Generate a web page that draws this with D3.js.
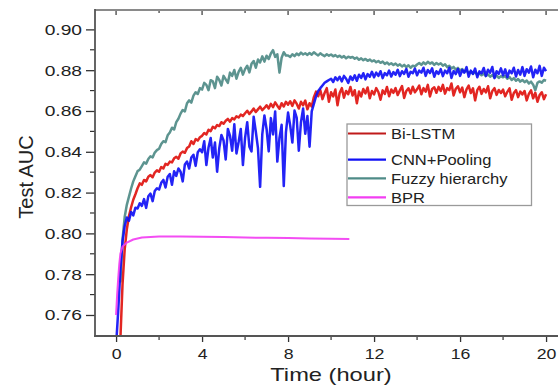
<!DOCTYPE html>
<html><head><meta charset="utf-8">
<script src="https://cdn.jsdelivr.net/npm/d3@7"></script>
<style>body{margin:0;background:#fff}svg{display:block}text{font-family:"Liberation Sans",Arial,sans-serif;fill:#222}</style>
</head><body><svg id="c" width="558" height="389"></svg>
<script>
// ---- data ----
const timeStep = 0.1; // hours between samples, first sample at 0 h
const seriesNames = ["Bi-LSTM","CNN+Pooling","Fuzzy hierarchy","BPR"];
const xTicks = [0,4,8,12,16,20];
const yTicks = [0.76,0.78,0.80,0.82,0.84,0.86,0.88,0.90];

const fuzzyAUC = [
null,null,0.776,0.797,0.808,0.814,0.818,0.822,0.8255,0.828,
0.8305,0.8312,0.833,0.8348,0.8342,0.8365,0.8378,0.8372,0.8396,0.8408,
0.8415,0.8438,0.8452,0.8447,0.8481,0.8495,0.8518,0.8509,0.8545,0.8562,
0.8587,0.8605,0.8598,0.8638,0.8652,0.8641,0.8675,0.8692,0.8683,0.8712,
0.8705,0.8738,0.8728,0.8702,0.8751,0.8745,0.8712,0.8768,0.8752,0.8725,
0.8772,0.8755,0.8738,0.8788,0.8772,0.8801,0.8758,0.8792,0.8812,0.8778,
0.8805,0.8822,0.8789,0.8831,0.8845,0.8812,0.8852,0.8838,0.8868,0.8842,
0.8871,0.8855,0.8882,0.8898,0.8865,0.8878,0.8788,0.8861,0.8888,0.8872,
0.8872,0.8865,0.8878,0.8869,0.8881,0.8874,0.8886,0.8877,0.8883,0.8875,
0.8884,0.8876,0.8888,0.8879,0.8872,0.8883,0.8875,0.8869,0.8878,0.8871,
0.8877,0.8868,0.8874,0.8865,0.8871,0.8862,0.8869,0.8858,0.8866,0.8861,
0.8865,0.8856,0.8862,0.8851,0.8858,0.8849,0.8855,0.8846,0.8852,0.8843,
0.8848,0.8839,0.8845,0.8836,0.8842,0.8831,0.8838,0.8828,0.8834,0.8825,
0.8832,0.8822,0.8829,0.8818,0.8826,0.8815,0.8824,0.8812,0.8822,0.8818,
0.8828,0.8835,0.8826,0.8838,0.8829,0.8841,0.8832,0.8838,0.8826,0.8835,
0.8828,0.8834,0.8822,0.8829,0.8815,0.8822,0.8809,0.8816,0.8803,0.8811,
0.8798,0.8806,0.8791,0.8799,0.8786,0.8794,0.8782,0.8791,0.8778,0.8786,
0.8775,0.8784,0.8771,0.8779,0.8768,0.8776,0.8764,0.8773,0.8762,0.8771,
0.8765,0.8772,0.8758,0.8766,0.8752,0.8761,0.8748,0.8757,0.8744,0.8752,
0.8741,0.8749,0.8735,0.8744,0.8729,0.8702,0.8738,0.8745,0.8739,0.8752,
0.8748];

const lstmAUC = [
null,null,0.748,0.775,0.792,0.802,0.8085,0.8128,0.8165,0.8192,
0.8221,0.8245,0.8238,0.8262,0.8255,0.8278,0.8286,0.8275,0.8298,0.8309,
0.8302,0.8325,0.8318,0.8341,0.8336,0.8352,0.8348,0.8368,0.8375,0.8366,
0.8392,0.8401,0.8395,0.8418,0.8426,0.8452,0.8438,0.8462,0.8455,0.8471,
0.8478,0.8492,0.8485,0.8508,0.8501,0.8522,0.8515,0.8531,0.8526,0.8545,
0.8538,0.8552,0.8561,0.8548,0.8565,0.8559,0.8574,0.8568,0.8582,0.8575,
0.8589,0.8601,0.8585,0.8598,0.8612,0.8595,0.8608,0.8621,0.8604,0.8615,
0.8628,0.8612,0.8635,0.8619,0.8642,0.8626,0.8611,0.8638,0.8622,0.8645,
0.8631,0.8648,0.8625,0.8652,0.8636,0.8612,0.8645,0.8628,0.8651,0.8608,
0.8638,0.8622,0.8668,0.8695,0.8672,0.8702,0.8658,0.8688,0.8712,0.8645,
0.8692,0.8671,0.8705,0.8628,0.8688,0.8712,0.8665,0.8698,0.8682,0.8718,
0.8676,0.8702,0.8638,0.8695,0.8671,0.8708,0.8686,0.8715,0.8662,0.8698,
0.8681,0.8712,0.8693,0.8655,0.8701,0.8684,0.8718,0.8672,0.8705,0.8689,
0.8712,0.8678,0.8701,0.8722,0.8664,0.8698,0.8711,0.8685,0.8719,0.8692,
0.8706,0.8725,0.8682,0.8712,0.8695,0.8728,0.8671,0.8708,0.8716,0.8689,
0.8718,0.8698,0.8728,0.8685,0.8712,0.8702,0.8735,0.8676,0.8709,0.8721,
0.8692,0.8715,0.8668,0.8706,0.8724,0.8688,0.8711,0.8652,0.8702,0.8719,
0.8684,0.8708,0.8691,0.8721,0.8662,0.8698,0.8712,0.8679,0.8703,0.8688,
0.8705,0.8672,0.8694,0.8711,0.8655,0.8688,0.8702,0.8668,0.8695,0.8681,
0.8698,0.8652,0.8684,0.8701,0.8662,0.8689,0.8645,0.8678,0.8692,0.8658,
0.8682];

const cnnAUC = [
0.745,0.762,0.782,0.796,0.8035,0.8078,0.8062,0.8105,0.8088,0.8126,
0.8122,0.8148,0.8135,0.8168,0.8125,0.8182,0.8195,0.8158,0.8208,0.8221,
0.8215,0.8248,0.8262,0.8225,0.8278,0.8291,0.8238,0.8305,0.8282,0.8318,
0.8302,0.8255,0.8338,0.8352,0.8318,0.8372,0.8385,0.8331,0.8398,0.8412,
0.8398,0.8452,0.8335,0.8421,0.8468,0.8372,0.8445,0.8302,0.8418,0.8482,
0.8455,0.8362,0.8512,0.8478,0.8405,0.8535,0.8392,0.8448,0.8512,0.8335,
0.8468,0.8545,0.8425,0.8402,0.8572,0.8498,0.8418,0.8228,0.8485,0.8578,
0.8512,0.8402,0.8565,0.8485,0.8598,0.8352,0.8468,0.8532,0.8232,0.8495,
0.8592,0.8528,0.8445,0.8602,0.8568,0.8405,0.8545,0.8612,0.8488,0.8575,
0.8425,0.8598,0.8635,0.8672,0.8698,0.8712,0.8725,0.8738,0.8745,0.8752,
0.8758,0.8742,0.8765,0.8751,0.8768,0.8745,0.8772,0.8758,0.8738,0.8769,
0.8752,0.8775,0.8748,0.8778,0.8762,0.8785,0.8755,0.8781,0.8768,0.8792,
0.8765,0.8788,0.8772,0.8795,0.8761,0.8786,0.8775,0.8798,0.8769,0.8791,
0.8778,0.8802,0.8771,0.8795,0.8782,0.8806,0.8768,0.8792,0.8785,0.8808,
0.8775,0.8798,0.8788,0.8812,0.8772,0.8801,0.8786,0.8809,0.8768,0.8795,
0.8782,0.8805,0.8771,0.8798,0.8785,0.8812,0.8762,0.8796,0.8781,0.8806,
0.8772,0.8801,0.8788,0.8815,0.8768,0.8798,0.8782,0.8808,0.8765,0.8794,
0.8785,0.8811,0.8772,0.8802,0.8788,0.8816,0.8761,0.8795,0.8782,0.8809,
0.8775,0.8804,0.8766,0.8798,0.8785,0.8812,0.8769,0.8801,0.8778,0.8815,
0.8772,0.8805,0.8788,0.8818,0.8765,0.8802,0.8785,0.8821,0.8772,0.8812,
0.8795];

const bprHours = [0,0.05,0.1,0.15,0.2,0.3,0.5,0.8,1.2,2,3,4,5,6,7,8,9,10,10.85];
const bprAUC   = [0.760,0.770,0.778,0.785,0.790,0.7935,0.7955,0.797,0.798,0.7985,0.7985,0.7983,0.7982,0.798,0.7978,0.7977,0.7975,0.7974,0.7973];

// ---- chart ----
const svg = d3.select("#c");
const L=95, R=558, T=10, B=336;
const x = d3.scaleLinear().domain([-0.98,20.555]).range([L,R]);
const y = d3.scaleLinear().domain([0.7497,0.9095]).range([B,T]);

svg.append("clipPath").attr("id","clip").append("rect")
  .attr("x",L).attr("y",T).attr("width",R-L).attr("height",B-T);

function toPts(arr){ return arr.map((v,i)=>({h:i*timeStep, v})); }
const line = d3.line().defined(d=>d.v!=null).x(d=>x(d.h)).y(d=>y(d.v));

const plot = svg.append("g").attr("clip-path","url(#clip)");
const series = [
  {name:"Fuzzy hierarchy", pts:toPts(fuzzyAUC), color:"#4f8b87", w:2.5},
  {name:"Bi-LSTM", pts:toPts(lstmAUC), color:"#e0130f", w:2.5},
  {name:"CNN+Pooling", pts:toPts(cnnAUC), color:"#1010f5", w:2.5},
  {name:"BPR", pts:bprHours.map((h,i)=>({h, v:bprAUC[i]})), color:"#f23ef2", w:2}
];
series.forEach(s=>{
  plot.append("path").datum(s.pts).attr("d",line)
    .attr("fill","none").attr("stroke",s.color).attr("stroke-width",s.w)
    .attr("stroke-linejoin","round").attr("opacity",0.92);
});

// axes
const yAxis = d3.axisLeft(y).tickValues(yTicks).tickFormat(d3.format(".2f")).tickSize(9).tickPadding(4);
const gy = svg.append("g").attr("transform",`translate(${L},0)`).call(yAxis);
gy.select(".domain").remove();
gy.selectAll(".tick line").attr("stroke","#333").attr("stroke-width",1.3);
gy.selectAll(".tick text").attr("font-size",15.5).attr("fill","#222")
  .attr("font-family","Liberation Sans, Arial, sans-serif")
  .attr("transform","translate(-13,0) scale(1.24,1) translate(13,0)");
// minor y ticks
const yMinor = [0.77,0.79,0.81,0.83,0.85,0.87,0.89];
svg.append("g").selectAll("line").data(yMinor).join("line")
  .attr("x1",L-5).attr("x2",L).attr("y1",d=>y(d)).attr("y2",d=>y(d)).attr("stroke","#333").attr("stroke-width",1.2);

const xAxis = d3.axisBottom(x).tickValues(xTicks).tickFormat(d3.format("d")).tickSize(6).tickPadding(6);
const gx = svg.append("g").attr("transform",`translate(0,${B})`).call(xAxis);
gx.select(".domain").remove();
gx.selectAll(".tick line").attr("stroke","#333").attr("stroke-width",1.3);
gx.selectAll(".tick text").attr("font-size",15).attr("fill","#222")
  .attr("font-family","Liberation Sans, Arial, sans-serif")
  .attr("transform","scale(1.18,1)");
const xMinor = [2,6,10,14,18];
svg.append("g").selectAll("line").data(xMinor).join("line")
  .attr("x1",d=>x(d)).attr("x2",d=>x(d)).attr("y1",B).attr("y2",B+4).attr("stroke","#333").attr("stroke-width",1.2);
// top ticks (inward)
svg.append("g").selectAll("line").data(xTicks).join("line")
  .attr("x1",d=>x(d)).attr("x2",d=>x(d)).attr("y1",T).attr("y2",T+5).attr("stroke","#333").attr("stroke-width",1.2);
svg.append("g").selectAll("line").data(xMinor).join("line")
  .attr("x1",d=>x(d)).attr("x2",d=>x(d)).attr("y1",T).attr("y2",T+3).attr("stroke","#333").attr("stroke-width",1.2);

// frame
svg.append("line").attr("x1",L).attr("x2",R).attr("y1",T).attr("y2",T).attr("stroke","#8a8a8a").attr("stroke-width",2);
svg.append("line").attr("x1",L).attr("x2",L).attr("y1",T-1).attr("y2",B+1).attr("stroke","#555").attr("stroke-width",1.8);
svg.append("line").attr("x1",L-1).attr("x2",R).attr("y1",B).attr("y2",B).attr("stroke","#555").attr("stroke-width",1.8);

// axis titles
svg.append("text").attr("x",0).attr("y",0).attr("text-anchor","middle")
  .attr("font-size",18.5)
  .attr("transform",`translate(331,381) scale(1.28,1)`).text("Time (hour)");
svg.append("text").attr("text-anchor","middle").attr("font-size",20)
  .attr("transform","translate(33,177) rotate(-90)").text("Test AUC");

// legend
const lg = svg.append("g");
lg.append("rect").attr("x",347).attr("y",124).attr("width",184.5).attr("height",81.5)
  .attr("fill","#fff").attr("stroke","#9a9a9a").attr("stroke-width",1.3);
const legendRows = [
  {name:"Bi-LSTM", color:"#c01a1a", yy:133.5},
  {name:"CNN+Pooling", color:"#1010f5", yy:159.7},
  {name:"Fuzzy hierarchy", color:"#4f8b87", yy:178.3},
  {name:"BPR", color:"#f23ef2", yy:197.3}
];
legendRows.forEach(r=>{
  lg.append("line").attr("x1",348).attr("x2",386).attr("y1",r.yy).attr("y2",r.yy)
    .attr("stroke",r.color).attr("stroke-width",2.2);
  lg.append("text").attr("font-size",14).attr("dominant-baseline","central")
    .attr("transform",`translate(391,${r.yy+0.5}) scale(1.18,1)`).text(r.name);
});
</script></body></html>
